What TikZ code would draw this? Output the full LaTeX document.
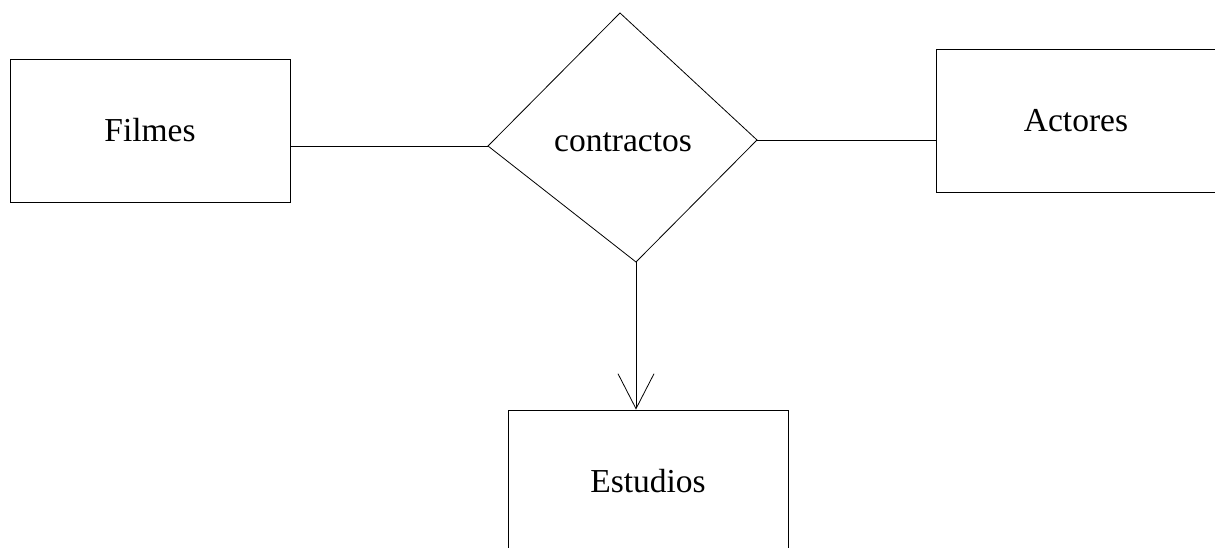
\documentclass[tikz,border=0pt]{standalone}
\usepackage{fontspec}
\setmainfont{Liberation Serif}
\usepackage{tikz}
\usetikzlibrary{arrows.meta}

\begin{document}
\begin{tikzpicture}[x=1pt,y=-1pt,line width=0.8pt,
		entidade/.style={draw,rectangle,minimum width=280pt,minimum height=143pt,font=\fontsize{33.5}{40}\selectfont},
		rotulo/.style={font=\fontsize{33.5}{40}\selectfont}]
					\useasboundingbox (0,0) rectangle (1215,548);
					\node[entidade] (filmes) at (150,130.5) {Filmes};
					\node[entidade] (actores) at (1076,120.5) {Actores};
					\node[entidade] (estudios) at (648,481.5) {Estudios};
					
					\coordinate (ct) at (620,13);
					\coordinate (cl) at (488,146);
					\coordinate (cr) at (757,140);
					\coordinate (cb) at (636,262);
					\draw (ct) -- (cr) -- (cb) -- (cl) -- cycle;
					\node[rotulo] (contractos) at (623,142) {contractos};
					
					\draw (cl) -- (cl -| filmes.east);
					\draw (cr) -- (cr -| actores.west);
					\draw[-{Straight Barb[length=35pt,width=36pt]}] (cb) -- (cb |- estudios.north);
				\end{tikzpicture}
\end{document}
